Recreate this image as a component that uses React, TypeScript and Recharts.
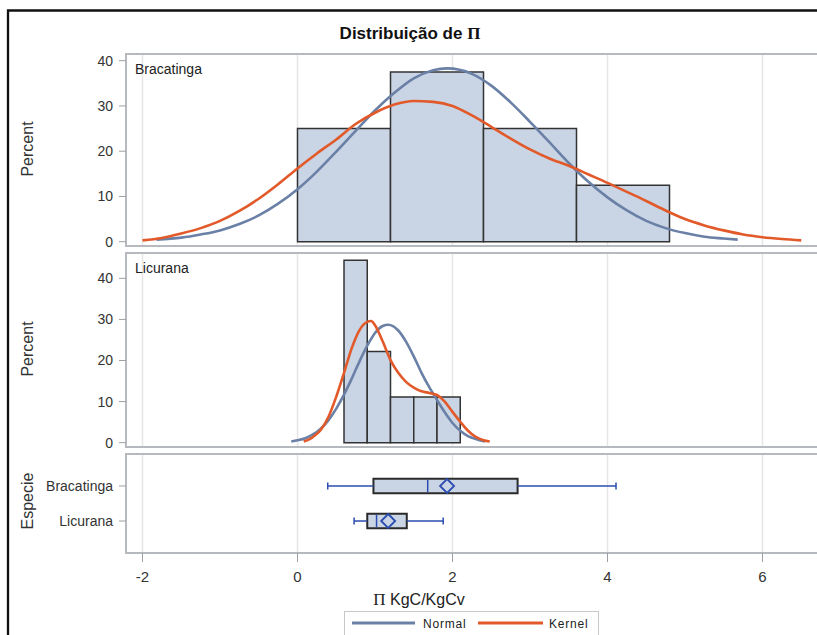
import React from 'react';
import {
  ComposedChart,
  Line,
  XAxis,
  YAxis,
  CartesianGrid,
  ReferenceArea,
  ReferenceLine,
  Scatter,
} from 'recharts';

// ---------- data ----------
const xTicks = [-2, 0, 2, 4, 6];
const xDomain: [number, number] = [-2.213, 6.871];
const percentTicks = [0, 10, 20, 30, 40];

const bracBinEdges = [0, 1.2, 2.4, 3.6, 4.8];
const bracPercent = [25, 37.5, 25, 12.5];
const licBinEdges = [0.6, 0.9, 1.2, 1.5, 1.8, 2.1];
const licPercent = [44.4, 22.2, 11.1, 11.1, 11.1];

const bracNormalX = [-1.82, -1.5, -1.25, -1, -0.75, -0.5, -0.25, 0, 0.25, 0.5, 0.75, 1, 1.25, 1.5, 1.75, 1.93, 2.25, 2.5, 2.75, 3, 3.25, 3.5, 3.75, 4, 4.25, 4.5, 4.75, 5, 5.25, 5.5, 5.68];
const bracNormalY = [0.45, 0.9, 1.6, 2.5, 3.9, 5.8, 8.4, 11.6, 15.5, 19.9, 24.5, 29.0, 32.9, 36.1, 37.9, 38.3, 37.1, 34.5, 30.8, 26.5, 22.0, 17.4, 13.3, 9.8, 6.9, 4.6, 3.0, 1.9, 1.1, 0.7, 0.45];

const bracKernelX = [-2, -1.75, -1.5, -1.25, -1, -0.75, -0.5, -0.25, 0, 0.25, 0.5, 0.75, 1, 1.25, 1.5, 1.75, 2, 2.25, 2.5, 2.75, 3, 3.25, 3.5, 3.75, 4, 4.25, 4.5, 4.75, 5, 5.25, 5.5, 5.75, 6, 6.25, 6.5];
const bracKernelY = [0.3, 0.8, 1.8, 3.0, 4.6, 6.8, 9.5, 12.7, 16.2, 19.5, 22.6, 26.0, 28.5, 30.3, 31.1, 30.9, 30.0, 27.9, 25.4, 22.8, 20.4, 18.4, 16.8, 14.9, 13.0, 11.0, 9.0, 6.9, 5.0, 3.6, 2.5, 1.6, 1.0, 0.6, 0.3];

const licNormalX = [-0.08, 0, 0.1, 0.2, 0.3, 0.4, 0.5, 0.6, 0.7, 0.8, 0.9, 1.0, 1.1, 1.17, 1.3, 1.4, 1.5, 1.6, 1.7, 1.8, 1.9, 2.0, 2.1, 2.2, 2.3, 2.42];
const licNormalY = [0.3, 0.6, 1.1, 2.0, 3.4, 5.5, 8.3, 11.7, 15.6, 19.8, 23.6, 26.7, 28.4, 28.7, 27.3, 24.6, 21.0, 17.0, 13.5, 10.4, 7.4, 4.8, 2.9, 1.6, 0.9, 0.3];

const licKernelX = [0.08, 0.15, 0.2, 0.3, 0.4, 0.5, 0.6, 0.7, 0.8, 0.9, 0.95, 1.0, 1.1, 1.2, 1.3, 1.4, 1.5, 1.6, 1.7, 1.8, 1.9, 2.0, 2.1, 2.2, 2.3, 2.4, 2.48];
const licKernelY = [0.3, 0.8, 1.4, 3.1, 6.3, 11.2, 17.0, 23.0, 27.4, 29.4, 29.6, 28.6, 24.6, 20.1, 17.0, 14.8, 13.4, 12.5, 12.1, 11.6, 10.0, 7.5, 5.1, 2.9, 1.4, 0.6, 0.3];

const especies = ['Bracatinga', 'Licurana'];
const boxMin = [0.39, 0.73];
const boxQ1 = [0.98, 0.9];
const boxMedian = [1.68, 1.02];
const boxMean = [1.93, 1.17];
const boxQ3 = [2.84, 1.41];
const boxMax = [4.11, 1.88];

// ---------- styles ----------
const FONT = "'Liberation Sans', Arial, sans-serif";
const BAR_FILL = '#c9d4e4';
const BAR_STROKE = '#333333';
const NORMAL = '#6a80a6';
const KERNEL = '#e2592a';
const BOX_BLUE = '#2b4cb0';
const FRAME = '#b6babf';
const GRID = '#e6e6e6';
const TICKLINE = '#9ba0a6';

const toPoints = (xs: number[], ys: number[]) => xs.map((x, i) => ({ x, y: ys[i] }));

const CHART_W = 822;
const MARGIN_LEFT = 58;
const YAXIS_W = 60;

type HistProps = {
  top: number;
  plotH: number;
  yDomain: [number, number];
  edges: number[];
  percent: number[];
  normal: { x: number; y: number }[];
  kernel: { x: number; y: number }[];
};

function HistPanel({ top, plotH, yDomain, edges, percent, normal, kernel }: HistProps) {
  return (
    <div style={{ position: 'absolute', left: 8, top }}>
      <ComposedChart
        width={CHART_W}
        height={plotH + 16}
        margin={{ top: 8, right: 0, bottom: 8, left: MARGIN_LEFT }}
      >
        <CartesianGrid horizontal={false} stroke={GRID} strokeWidth={1.5} />
        <XAxis type="number" dataKey="x" domain={xDomain} ticks={xTicks} allowDataOverflow hide />
        <YAxis
          type="number"
          domain={yDomain}
          ticks={percentTicks}
          allowDataOverflow
          width={YAXIS_W}
          axisLine={false}
          tickLine={{ stroke: TICKLINE }}
          tickSize={7}
          tickMargin={6}
          tick={{ fontSize: 14, fill: '#333', fontFamily: FONT }}
        />
        {percent.map((p, i) => (
          <ReferenceArea
            key={'b' + i}
            x1={edges[i]}
            x2={edges[i + 1]}
            y1={0}
            y2={p}
            fill={BAR_FILL}
            fillOpacity={1}
            stroke={BAR_STROKE}
            strokeWidth={1.5}
            ifOverflow="visible"
          />
        ))}
        <ReferenceArea
          x1={xDomain[0]}
          x2={xDomain[1]}
          y1={yDomain[0]}
          y2={yDomain[1]}
          fill="none"
          stroke={FRAME}
          strokeWidth={2}
          ifOverflow="visible"
        />
        <Line
          data={normal}
          dataKey="y"
          type="monotone"
          stroke={NORMAL}
          strokeWidth={2.6}
          dot={false}
          activeDot={false}
          isAnimationActive={false}
        />
        <Line
          data={kernel}
          dataKey="y"
          type="monotone"
          stroke={KERNEL}
          strokeWidth={2.6}
          dot={false}
          activeDot={false}
          isAnimationActive={false}
        />
      </ComposedChart>
    </div>
  );
}

const Diamond = (props: any) => {
  const { cx, cy } = props;
  if (cx == null || cy == null) return null;
  const r = 7;
  return (
    <path
      d={`M${cx},${cy - r} L${cx + r},${cy} L${cx},${cy + r} L${cx - r},${cy} Z`}
      fill="none"
      stroke={BOX_BLUE}
      strokeWidth={1.8}
    />
  );
};

function BoxPanel() {
  const n = especies.length;
  const pos = especies.map((_, i) => n - i);
  const yDomain: [number, number] = [0.086, 2.914];
  const half = 0.21;
  const cap = 0.1;
  const meanData = especies.map((_, i) => ({ x: boxMean[i], y: pos[i] }));
  return (
    <div style={{ position: 'absolute', left: 8, top: 446 }}>
      <ComposedChart
        width={CHART_W}
        height={8 + 99 + 40}
        margin={{ top: 8, right: 0, bottom: 0, left: MARGIN_LEFT }}
      >
        <CartesianGrid horizontal={false} stroke={GRID} strokeWidth={1.5} />
        <XAxis
          type="number"
          dataKey="x"
          domain={xDomain}
          ticks={xTicks}
          allowDataOverflow
          height={40}
          axisLine={false}
          tickLine={{ stroke: TICKLINE }}
          tickSize={9}
          tickMargin={9}
          tick={{ fontSize: 15, fill: '#333', fontFamily: FONT }}
        />
        <YAxis
          type="number"
          dataKey="y"
          domain={yDomain}
          ticks={pos}
          tickFormatter={(v: number) => especies[n - v]}
          allowDataOverflow
          width={YAXIS_W}
          axisLine={false}
          tickLine={{ stroke: TICKLINE }}
          tickSize={7}
          tickMargin={6}
          tick={{ fontSize: 14, fill: '#333', fontFamily: FONT }}
        />
        {especies.map((_, i) => (
          <ReferenceArea
            key={'box' + i}
            x1={boxQ1[i]}
            x2={boxQ3[i]}
            y1={pos[i] - half}
            y2={pos[i] + half}
            fill={BAR_FILL}
            fillOpacity={1}
            stroke="#2a2a2a"
            strokeWidth={2}
            ifOverflow="visible"
          />
        ))}
        <ReferenceArea
          x1={xDomain[0]}
          x2={xDomain[1]}
          y1={yDomain[0]}
          y2={yDomain[1]}
          fill="none"
          stroke={FRAME}
          strokeWidth={2}
          ifOverflow="visible"
        />
        {especies.map((_, i) => (
          <ReferenceLine
            key={'wl' + i}
            segment={[{ x: boxMin[i], y: pos[i] }, { x: boxQ1[i], y: pos[i] }]}
            stroke={BOX_BLUE}
            strokeWidth={1.5}
            ifOverflow="visible"
          />
        ))}
        {especies.map((_, i) => (
          <ReferenceLine
            key={'wr' + i}
            segment={[{ x: boxQ3[i], y: pos[i] }, { x: boxMax[i], y: pos[i] }]}
            stroke={BOX_BLUE}
            strokeWidth={1.5}
            ifOverflow="visible"
          />
        ))}
        {especies.map((_, i) => (
          <ReferenceLine
            key={'cl' + i}
            segment={[{ x: boxMin[i], y: pos[i] - cap }, { x: boxMin[i], y: pos[i] + cap }]}
            stroke={BOX_BLUE}
            strokeWidth={1.5}
            ifOverflow="visible"
          />
        ))}
        {especies.map((_, i) => (
          <ReferenceLine
            key={'cr' + i}
            segment={[{ x: boxMax[i], y: pos[i] - cap }, { x: boxMax[i], y: pos[i] + cap }]}
            stroke={BOX_BLUE}
            strokeWidth={1.5}
            ifOverflow="visible"
          />
        ))}
        {especies.map((_, i) => (
          <ReferenceLine
            key={'md' + i}
            segment={[{ x: boxMedian[i], y: pos[i] - half + 0.03 }, { x: boxMedian[i], y: pos[i] + half - 0.03 }]}
            stroke={BOX_BLUE}
            strokeWidth={1.5}
            ifOverflow="visible"
          />
        ))}
        <Scatter data={meanData} shape={<Diamond />} isAnimationActive={false} />
      </ComposedChart>
    </div>
  );
}

export default function App() {
  return (
    <div
      style={{
        position: 'absolute',
        left: 0,
        top: 0,
        width: 817,
        height: 635,
        overflow: 'hidden',
        background: '#fff',
      }}
    >
      <HistPanel
        top={46}
        plotH={192}
        yDomain={[-0.95, 41.48]}
        edges={bracBinEdges}
        percent={bracPercent}
        normal={toPoints(bracNormalX, bracNormalY)}
        kernel={toPoints(bracKernelX, bracKernelY)}
      />
      <HistPanel
        top={245}
        plotH={194}
        yDomain={[-1.05, 46.16]}
        edges={licBinEdges}
        percent={licPercent}
        normal={toPoints(licNormalX, licNormalY)}
        kernel={toPoints(licKernelX, licKernelY)}
      />
      <BoxPanel />
      <svg
        width={817}
        height={635}
        style={{ position: 'absolute', left: 0, top: 0, pointerEvents: 'none' }}
        fontFamily={FONT}
      >
        <path d="M8,640 V10.5 H830" fill="none" stroke="#111" strokeWidth={2.3} />
        <text x={410} y={39} textAnchor="middle" fontSize={17} fontWeight="bold" fill="#111">
          Distribuição de <tspan fontFamily="'Liberation Serif', serif">Π</tspan>
        </text>
        <text x={135} y={74.3} fontSize={14} fill="#222">Bracatinga</text>
        <text x={135} y={272.7} fontSize={14} fill="#222">Licurana</text>
        <text transform="translate(33,149) rotate(-90)" textAnchor="middle" fontSize={16} fill="#333">Percent</text>
        <text transform="translate(33,349) rotate(-90)" textAnchor="middle" fontSize={16} fill="#333">Percent</text>
        <text transform="translate(33,501) rotate(-90)" textAnchor="middle" fontSize={16} fill="#333">Especie</text>
        <text x={419} y={605} textAnchor="middle" fontSize={16} fill="#222">
          <tspan fontFamily="'Liberation Serif', serif" fontSize={17}>Π</tspan> KgC/KgCv
        </text>
        <rect x={344.5} y={611.5} width={254} height={24} fill="#fff" stroke="#c8c8c8" strokeWidth={1} />
        <line x1={352} y1={623} x2={415} y2={623} stroke={NORMAL} strokeWidth={3} />
        <text x={423} y={627.5} fontSize={12} letterSpacing={0.8} fill="#222">Normal</text>
        <line x1={478} y1={623} x2={543} y2={623} stroke={KERNEL} strokeWidth={3} />
        <text x={549} y={627.5} fontSize={12} letterSpacing={0.8} fill="#222">Kernel</text>
      </svg>
    </div>
  );
}
